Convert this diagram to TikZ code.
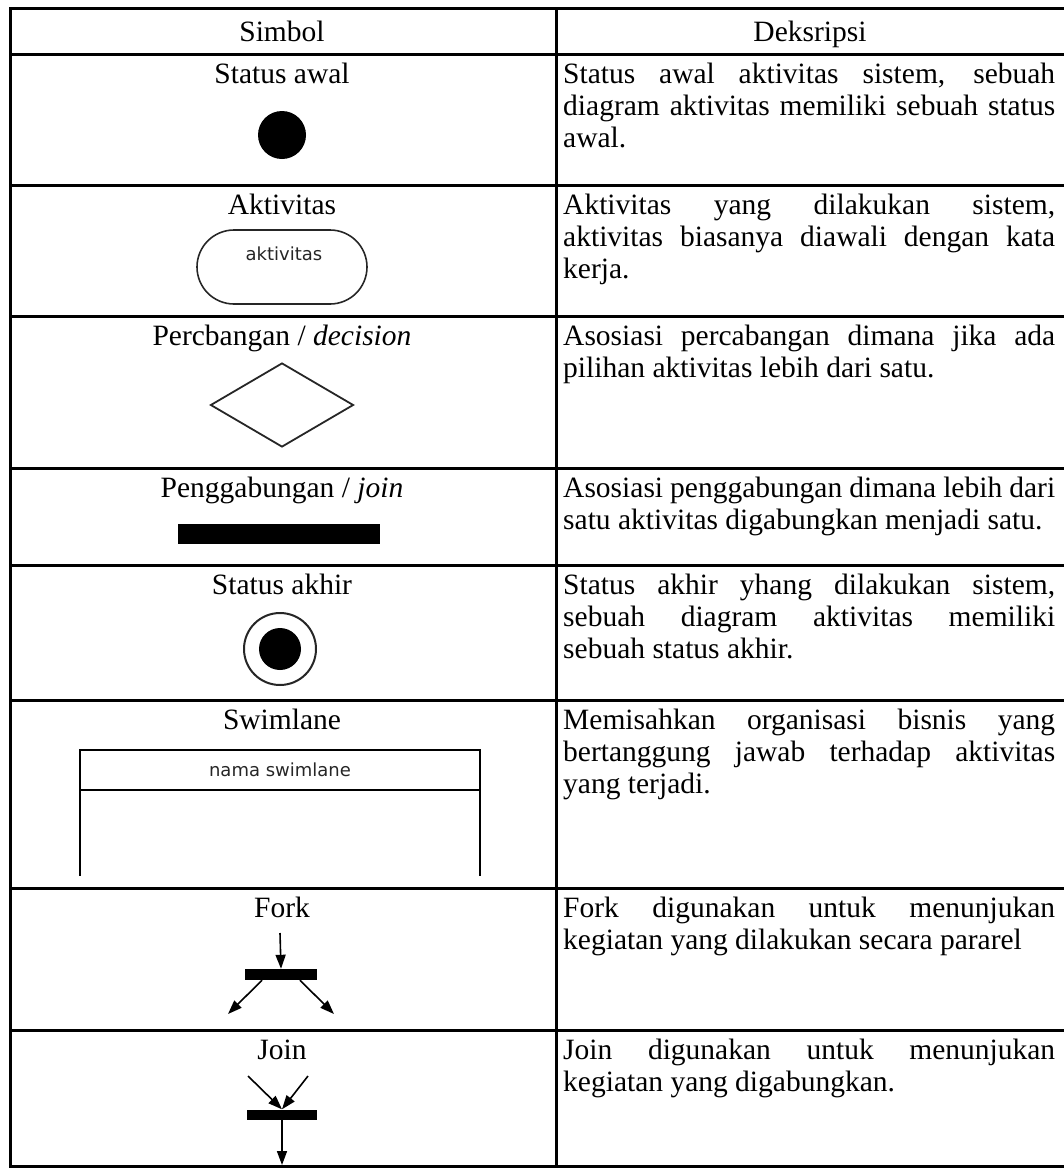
\documentclass[tikz,border=0pt]{standalone}
\usepackage{fontspec}
\setmainfont{Liberation Serif}
\newfontfamily\symfont{DejaVu Sans}
\usetikzlibrary{arrows.meta,shapes.geometric}
\tolerance=10000
\hyphenpenalty=10000
\begin{document}
\begin{tikzpicture}[x=1pt,y=-1pt,
  rule/.style={line width=3pt},
  desc/.style={anchor=base west, inner sep=0pt, text width=492pt, align=justify,
    font=\fontsize{29.5}{32}\selectfont},
  lbl/.style={anchor=base, inner sep=0pt, font=\fontsize{29.5}{32}\selectfont},
  symtext/.style={inner sep=0pt, font=\symfont\fontsize{18}{20}\selectfont, text=black!85},
  bar/.style={fill=black, inner sep=0pt},
  arr/.style={line width=1.6pt, -{Triangle[length=14pt,width=10pt]}},
]
\useasboundingbox (0,0) rectangle (1064,1168);
% table rules
\draw[rule] (1064,8) -- (10,8) -- (10,1166) -- (1064,1166);
\draw[rule] (556,8) -- (556,1166);
\foreach \yy in {54,185,316,468,565,700,888,1030}
  \draw[rule] (10,\yy) -- (1064,\yy);

% header
\node[lbl] (hsim) at (282,41) {Simbol};
\node[lbl] (hdes) at (810,41) {Deksripsi};

% row 1
\node[lbl] (l1) at (282,83) {Status awal};
\node[circle, fill=black, minimum size=48pt, inner sep=0pt] (init) at (282,135) {};
\node[desc] (d1) at (563,83) {Status awal aktivitas sistem, sebuah\linebreak diagram aktivitas memiliki sebuah status\linebreak awal.};

% row 2
\node[lbl] (l2) at (282,214) {Aktivitas};
\node[draw=black!85, line width=1.6pt, rounded corners=37pt, minimum width=170pt, minimum height=74pt, inner sep=0pt] (act) at (282,267) {};
\node[symtext, anchor=base] (acttxt) at (284,260) {aktivitas};
\node[desc] (d2) at (563,214) {Aktivitas yang dilakukan sistem,\linebreak aktivitas biasanya diawali dengan kata\linebreak kerja.};

% row 3
\node[lbl] (l3) at (282,345) {Percbangan / \textit{decision}};
\node[diamond, draw=black!85, line width=1.8pt, minimum width=143pt, minimum height=84pt, inner sep=0pt] (dec) at (282,405) {};
\node[desc] (d3) at (563,345) {Asosiasi percabangan dimana jika ada\linebreak pilihan aktivitas lebih dari satu.};

% row 4
\node[lbl] (l4) at (282,497) {Penggabungan / \textit{join}};
\node[bar, minimum width=202pt, minimum height=20pt] (jbar) at (279,534) {};
\node[desc] (d4) at (563,497) {Asosiasi penggabungan dimana lebih dari\linebreak satu aktivitas digabungkan menjadi satu.};

% row 5
\node[lbl] (l5) at (282,594) {Status akhir};
\node[circle, draw=black!85, line width=2pt, minimum size=72pt, inner sep=0pt] (fin) at (280,649) {};
\node[circle, fill=black, minimum size=42pt, inner sep=0pt] (finin) at (fin.center) {};
\node[desc] (d5) at (563,594) {Status akhir yhang dilakukan sistem,\linebreak sebuah diagram aktivitas memiliki\linebreak sebuah status akhir.};

% row 6
\node[lbl] (l6) at (282,729) {Swimlane};
\node[draw, line width=2.6pt, minimum width=400pt, minimum height=40pt, inner sep=0pt, outer sep=0pt, symtext] (swh) at (280,770) {nama swimlane};
\coordinate (swl) at (80,876);
\coordinate (swr) at (480,876);
\draw[line width=2.6pt] (swh.south west) -- (swl);
\draw[line width=2.6pt] (swh.south east) -- (swr);
\node[desc] (d6) at (563,729) {Memisahkan organisasi bisnis yang\linebreak bertanggung jawab terhadap aktivitas\linebreak yang terjadi.};

% row 7
\node[lbl] (l7) at (282,917) {Fork};
\node[bar, minimum width=72pt, minimum height=11pt] (fbar) at (281,974.5) {};
\coordinate (fin1) at (280,933);
\coordinate (fl) at (228,1014);
\coordinate (fr) at (334,1014);
\draw[arr] (fin1) -- (fbar.north);
\draw[arr] ([xshift=-19pt]fbar.south) -- (fl);
\draw[arr] ([xshift=19pt]fbar.south) -- (fr);
\node[desc] (d7) at (563,917) {Fork digunakan untuk menunjukan\linebreak kegiatan yang dilakukan secara pararel};

% row 8
\node[lbl] (l8) at (282,1059) {Join};
\node[bar, minimum width=70pt, minimum height=10pt] (jb) at (282,1114.5) {};
\coordinate (ja) at (248,1076);
\coordinate (jc) at (308,1076);
\coordinate (jout) at (282,1165);
\draw[arr] (ja) -- (jb.north);
\draw[arr] (jc) -- (jb.north);
\draw[arr] (jb.south) -- (jout);
\node[desc] (d8) at (563,1059) {Join digunakan untuk menunjukan\linebreak kegiatan yang digabungkan.};
\end{tikzpicture}
\end{document}
